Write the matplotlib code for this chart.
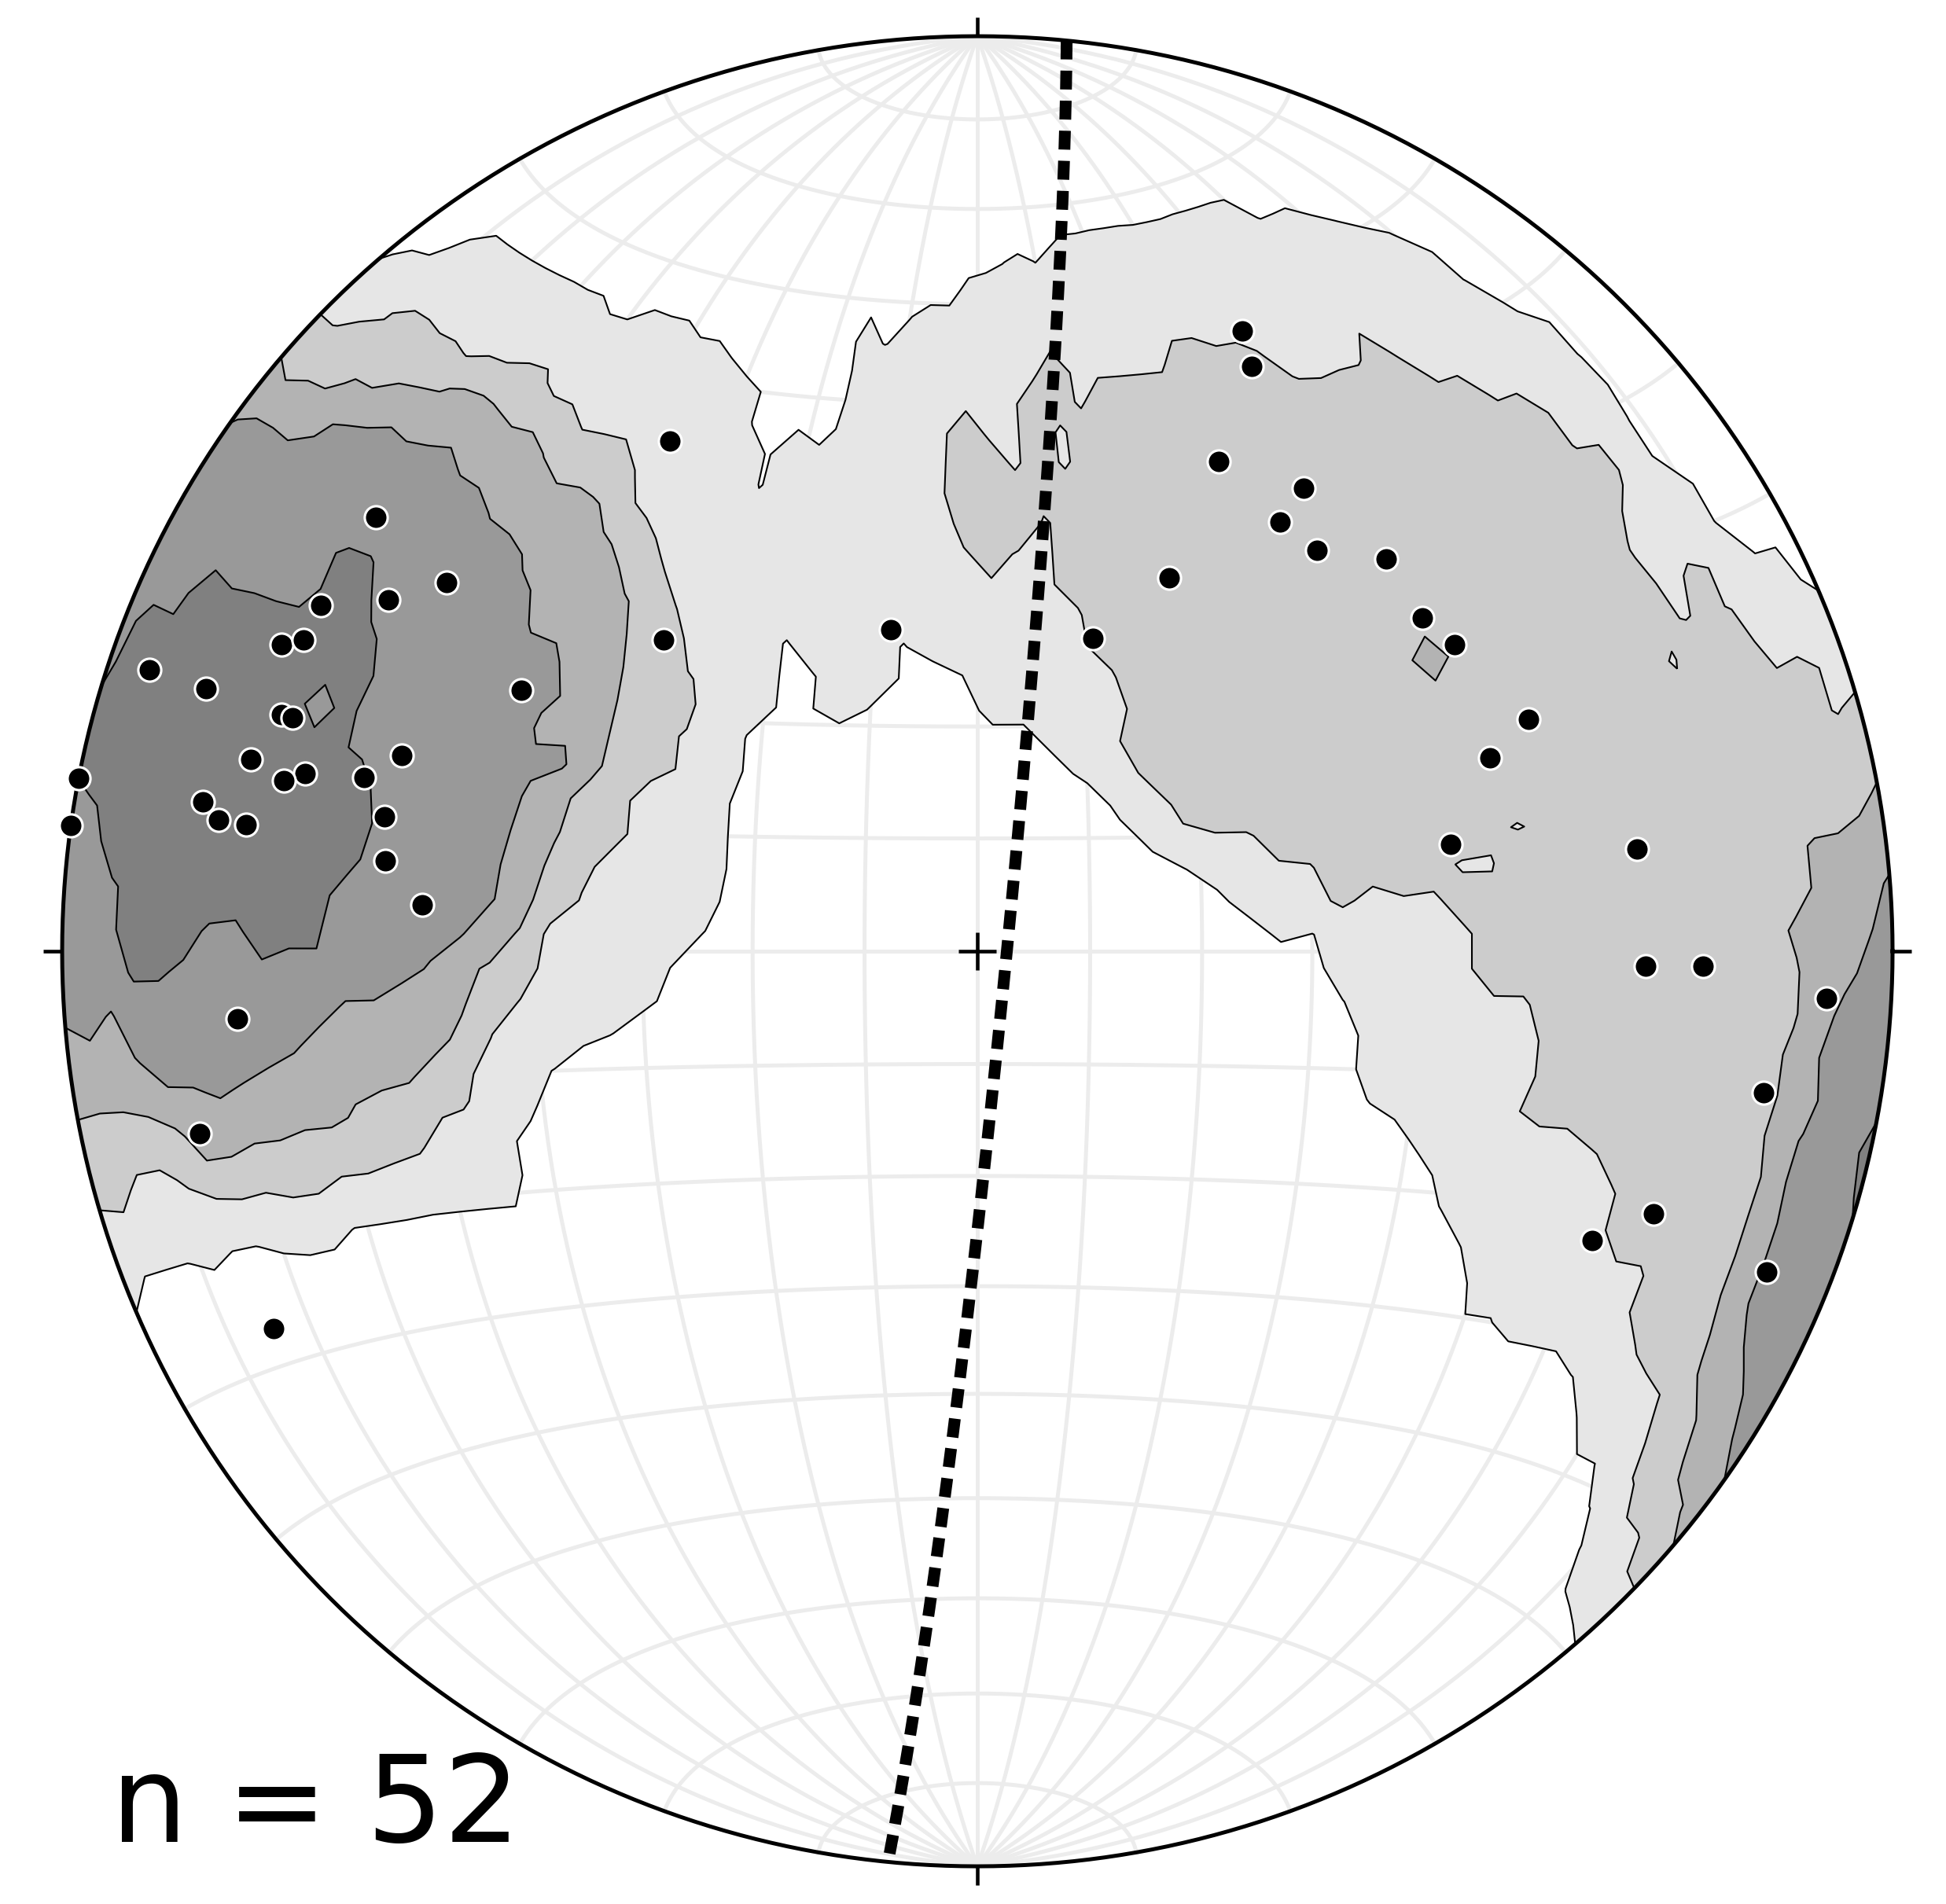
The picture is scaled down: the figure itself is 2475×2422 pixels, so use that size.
import numpy as np
import matplotlib
matplotlib.use("Agg")
import matplotlib.pyplot as plt

# poles: trend / plunge in degrees (lower hemisphere)
trend = [305.8, 304.8, 300.8, 297.8, 293.8, 294.8, 288.8, 288.8, 299.8, 288.8,
         288.8, 288.8, 284.8, 284.8, 283.8, 285.8, 280.9, 280.9, 279.8, 279.8,
         282.8, 277.9, 278.7, 274.8, 264.8, 256.8, 241.8, 328.9, 314.8, 345.0,
         23.1, 25.1, 26.2, 35.2, 35.2, 40.3, 46.2, 27.2, 20.3, 53.2,
         57.3, 67.2, 69.3, 77.3, 81.2, 91.3, 91.2, 93.2, 100.2, 111.2,
         115.2, 112.1]
plunge = [20.1, 30.1, 26.0, 20.0, 18.0, 20.0, 5.0, 12.0, 42.1, 20.8,
          22.0, 34.0, 19.0, 25.0, 23.0, 31.0, 0.0, 14.9, 17.0, 20.0,
          34.0, 0.0, 34.9, 39.0, 19.9, 13.8, 13.8, 35.2, 50.1, 60.2,
          27.2, 30.1, 40.1, 38.1, 42.1, 42.1, 38.1, 52.1, 60.1, 39.1,
          38.0, 35.0, 39.9, 46.0, 27.9, 27.8, 21.8, 7.8, 13.8, 21.8,
          26.7, 7.7]

# plane drawn as dashed great circle (right-hand rule)
plane_strike = 5.6
plane_dip = 87.4

levels = [2, 4, 6, 8, 10, 12]
band_colors = ['#e6e6e6', '#cccccc', '#b3b3b3', '#999999', '#808080']


def to_xyz(tr, pl):
    t = np.radians(np.asarray(tr, float))
    p = np.radians(np.asarray(pl, float))
    return np.stack([np.cos(p) * np.sin(t), np.cos(p) * np.cos(t), np.sin(p)], axis=-1)


def project(v):
    # lambert equal area, lower hemisphere, primitive radius 1
    k = 1.0 / np.sqrt(1.0 + v[..., 2])
    return v[..., 0] * k, v[..., 1] * k


def lonlat_xyz(lon, lat):
    return np.stack([np.cos(lat) * np.sin(lon), np.sin(lat), np.cos(lat) * np.cos(lon)], axis=-1)


fig = plt.figure(figsize=(8.25, 2422 / 300), dpi=300)
ax = fig.add_axes([0, 0, 1, 1])
ax.set_xlim(-1.0679, -1.0679 + 2475 / 1164)
ax.set_ylim(-1.0412, -1.0412 + 2422 / 1164)
ax.axis('off')

# grid: meridians and parallels every 10 deg
t = np.radians(np.linspace(-90, 90, 361))
for g in np.radians(np.arange(-80, 81, 10)):
    gx, gy = project(lonlat_xyz(np.full_like(t, g), t))
    ax.plot(gx, gy, color='#ececec', lw=1.2, zorder=1)
    gx, gy = project(lonlat_xyz(t, np.full_like(t, g)))
    ax.plot(gx, gy, color='#ececec', lw=1.2, zorder=1)

# kamb counting on a lon/lat grid
gs = 64
lon = np.linspace(-np.pi / 2, np.pi / 2, gs)
LON, LAT = np.meshgrid(lon, lon)
nodes = lonlat_xyz(LON, LAT)
X, Y = project(nodes)
pts = to_xyz(trend, plunge)
n = len(trend)
sigma = 3.0
radius = 1 - sigma ** 2 / (n + sigma ** 2)
units = np.sqrt(n * radius * (1 - radius))
counts = (np.abs(nodes @ pts.T) >= radius).sum(axis=-1)
dens = counts / units

ax.contourf(X, Y, dens, levels=levels, colors=band_colors, zorder=2)
ax.contour(X, Y, dens, levels=levels[:-1], colors='k', linewidths=0.5, zorder=3)

# great circle
a = np.linspace(0, np.pi, 400)
s = np.radians(plane_strike)
d = np.radians(plane_dip)
dd = s + np.pi / 2
sv = np.array([np.sin(s), np.cos(s), 0.0])
dv = np.array([np.cos(d) * np.sin(dd), np.cos(d) * np.cos(dd), np.sin(d)])
gc = np.cos(a)[:, None] * sv + np.sin(a)[:, None] * dv
cx, cy = project(gc)
ax.plot(cx, cy, color='k', lw=3.6, dashes=(1.6, 0.95), dash_capstyle='butt', zorder=4)

# primitive circle, cardinal ticks and centre cross
th = np.linspace(0, 2 * np.pi, 721)
ax.plot(np.cos(th), np.sin(th), color='k', lw=1.2, zorder=5)
tk = 0.021
for ux, uy in [(0, 1), (0, -1), (1, 0), (-1, 0)]:
    ax.plot([ux, ux * (1 + tk)], [uy, uy * (1 + tk)], color='k', lw=1.1, zorder=5, solid_capstyle='butt')
ax.plot([-tk, tk], [0, 0], color='k', lw=1.1, zorder=5, solid_capstyle='butt')
ax.plot([0, 0], [-tk, tk], color='k', lw=1.1, zorder=5, solid_capstyle='butt')

px, py = project(pts)
ax.plot(px, py, 'o', color='k', markersize=7, markeredgecolor='white', markeredgewidth=0.75,
        zorder=6, clip_on=False)

ax.text(-0.9468, -0.9733, f"n = {n}", fontsize=37, va='baseline', ha='left')

fig.savefig('out.png', dpi=300)
